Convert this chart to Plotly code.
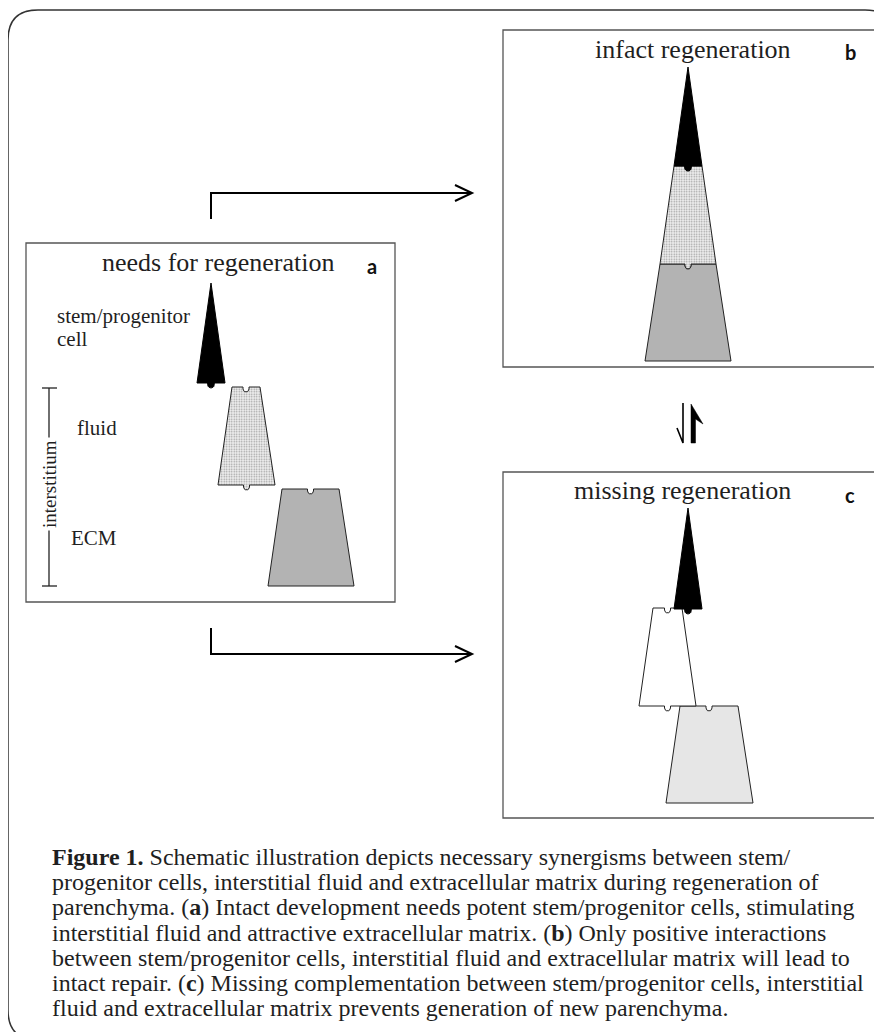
import numpy as np
import plotly.graph_objects as go

# page body has an 8px margin; the figure fills the rest of the 882x1032 window
PAGE_W, PAGE_H, OFF = 882, 1032, 8

# ---------------- text content ----------------
panel_titles = ["needs for regeneration", "infact regeneration", "missing regeneration"]
panel_letters = ["a", "b", "c"]
side_labels = ["stem/progenitor", "cell", "fluid", "ECM"]
axis_label = "interstitium"
caption_lines = [
    "<b>Figure 1.</b> Schematic illustration depicts necessary synergisms between stem/",
    "progenitor cells, interstitial fluid and extracellular matrix during regeneration of",
    "parenchyma. (<b>a</b>) Intact development needs potent stem/progenitor cells, stimulating",
    "interstitial fluid and attractive extracellular matrix. (<b>b</b>) Only positive interactions",
    "between stem/progenitor cells, interstitial fluid and extracellular matrix will lead to",
    "intact repair. (<b>c</b>) Missing complementation between stem/progenitor cells, interstitial",
    "fluid and extracellular matrix prevents generation of new parenchyma.",
]

# ---------------- layout geometry (pixel space) ----------------
panel_boxes = [(26, 243, 395, 602), (503, 30, 875, 367), (503, 472, 875, 818)]
title_pos = [(218, 262), (693, 49), (682, 490)]
letter_pos = [(372, 266), (850, 52), (850, 495)]
side_label_pos = [(55, 316), (55, 339), (75, 428), (69, 538)]

# spikes: (cx, y_apex, y_base, half_width)
spikes = [(211, 283, 383, 14), (688, 67, 166, 14), (688, 508, 609, 14)]
# pieces: (cx_top, y_top, half_top, cx_bot, y_bot, half_bot, fill, stipple, notch, bump)
pieces = [
    (310.5, 489, 28.5, 311, 586, 43, "#b3b3b3", False, True, False),       # a ECM
    (246, 387, 14, 246.5, 485, 28.5, "#eeeeee", True, True, True),         # a fluid
    (688, 264, 28, 688, 361, 43, "#b3b3b3", False, True, False),           # b ECM
    (688, 166, 14, 688, 264, 28, "#eeeeee", True, True, True),             # b fluid
    (709, 706, 29, 709.5, 803, 43.5, "#e6e6e6", False, True, False),       # c ECM
    (667.5, 608, 14.5, 667.5, 706, 28.5, "#ffffff", False, True, True),    # c fluid
]


def arc(cx, cy, r, a0, a1, n=12):
    t = np.linspace(a0, a1, n)
    return list(cx + r * np.cos(t)), list(cy + r * np.sin(t))


def piece_path(cxt, yt, ht, cxb, yb, hb, notch, bump, r=3.0, d=2.0):
    xs, ys = [cxt - ht], [yt]
    if notch:  # U-shaped notch dipping into the piece
        ax, ay = arc(cxt, yt + d, r, np.pi, 0)
        xs += [cxt - r, cxt - r] + ax + [cxt + r, cxt + r]
        ys += [yt, yt + d] + ay + [yt + d, yt]
    xs += [cxt + ht, cxb + hb]
    ys += [yt, yb]
    if bump:  # small rounded tab hanging below
        ax, ay = arc(cxb, yb + d, r, 0, np.pi)
        xs += [cxb + r, cxb + r] + ax + [cxb - r, cxb - r]
        ys += [yb, yb + d] + ay + [yb + d, yb]
    xs += [cxb - hb, cxt - ht]
    ys += [yb, yt]
    return xs, ys


def spike_path(cx, ytop, ybase, hw, r=3.4):
    ax, ay = arc(cx, ybase + 1.5, r, 0, np.pi)
    xs = [cx, cx + hw, cx + r] + ax + [cx - r, cx - hw, cx]
    ys = [ytop, ybase, ybase] + ay + [ybase, ybase, ytop]
    return xs, ys


fig = go.Figure()

shapes = []
for (x0, y0, x1, y1) in panel_boxes:
    shapes.append(dict(type="rect", x0=x0, y0=y0, x1=x1, y1=y1,
                       line=dict(color="#555555", width=1.3), fillcolor="rgba(0,0,0,0)", layer="below"))

# outer rounded frame (right and bottom edges run past the page)
L, T, R, B, rr = 8, 10, 895, 1040, 30
frame = (f"M {L+rr} {T} L {R-rr} {T} Q {R} {T} {R} {T+rr} L {R} {B-rr} Q {R} {B} {R-rr} {B} "
         f"L {L+rr} {B} Q {L} {B} {L} {B-rr} L {L} {T+rr} Q {L} {T} {L+rr} {T} Z")
shapes.append(dict(type="path", path=frame, line=dict(color="#333333", width=1.5)))

# arrows from panel a to b and c
arrow_line = dict(color="black", width=2)
shapes.append(dict(type="path", path="M 211 219 L 211 193 L 472 193", line=arrow_line))
shapes.append(dict(type="path", path="M 455 185 L 472 193 L 455 201", line=arrow_line))
shapes.append(dict(type="path", path="M 211 628 L 211 654 L 472 654", line=arrow_line))
shapes.append(dict(type="path", path="M 455 646 L 472 654 L 455 662", line=arrow_line))

# equilibrium arrows between b and c
shapes.append(dict(type="path", path="M 683 403 L 683 443 L 677 428", line=dict(color="black", width=1.6)))
shapes.append(dict(type="path", path="M 691 443 L 691 404 L 703 424 L 695.5 419 L 695.5 443 Z",
                   line=dict(color="black", width=0.5), fillcolor="black"))

# interstitium bracket
br = dict(color="#222", width=1.3)
shapes.append(dict(type="line", x0=49, y0=388, x1=49, y1=586, line=br))
shapes.append(dict(type="line", x0=42, y0=388, x1=57, y1=388, line=br))
shapes.append(dict(type="line", x0=42, y0=586, x1=57, y1=586, line=br))

for (cxt, yt, ht, cxb, yb, hb, col, stip, notch, bump) in pieces:
    xs, ys = piece_path(cxt, yt, ht, cxb, yb, hb, notch, bump)
    kw = dict(x=xs, y=ys, mode="lines", fill="toself", fillcolor=col,
              line=dict(color="#222222", width=1), hoverinfo="skip", showlegend=False)
    if stip:
        kw["fillpattern"] = dict(shape=".", size=2.5, solidity=0.3, fgcolor="#9a9a9a",
                                 bgcolor="#f1f1f1", fillmode="replace")
    fig.add_trace(go.Scatter(**kw))

for (cx, yt, yb, hw) in spikes:
    xs, ys = spike_path(cx, yt, yb, hw)
    fig.add_trace(go.Scatter(x=xs, y=ys, mode="lines", fill="toself", fillcolor="black",
                             line=dict(color="black", width=1), hoverinfo="skip", showlegend=False))

# ---------------- annotations ----------------
ann = []
serif = "Liberation Serif"
ink = "#1f1f1f"
for t, (x, y) in zip(panel_titles, title_pos):
    ann.append(dict(x=x, y=y, text=t, showarrow=False, xanchor="center", yanchor="middle",
                    font=dict(family=serif, size=26, color=ink)))
for t, (x, y) in zip(panel_letters, letter_pos):
    ann.append(dict(x=x, y=y, text=f"<b>{t}</b>", showarrow=False, xanchor="center", yanchor="middle",
                    font=dict(family="Lato", size=20, color="#111")))
for t, (x, y) in zip(side_labels, side_label_pos):
    ann.append(dict(x=x, y=y, text=t, showarrow=False, xanchor="left", yanchor="middle",
                    font=dict(family=serif, size=21, color=ink)))
ann.append(dict(x=49, y=484, text=axis_label, showarrow=False, textangle=-90, bgcolor="white",
                borderpad=2, xanchor="center", yanchor="middle",
                font=dict(family=serif, size=19, color=ink)))
for i, t in enumerate(caption_lines):
    ann.append(dict(x=50, y=857 + 25.2 * i, text=t, showarrow=False, xanchor="left", yanchor="middle",
                    font=dict(family=serif, size=24, color=ink)))

fig.update_layout(
    width=PAGE_W - OFF, height=PAGE_H - OFF, margin=dict(l=0, r=0, t=0, b=0),
    paper_bgcolor="white", plot_bgcolor="white", showlegend=False,
    xaxis=dict(range=[OFF, PAGE_W], visible=False, fixedrange=True),
    yaxis=dict(range=[PAGE_H, OFF], visible=False, fixedrange=True),
    shapes=shapes, annotations=ann,
)
fig.write_html("out.html")
